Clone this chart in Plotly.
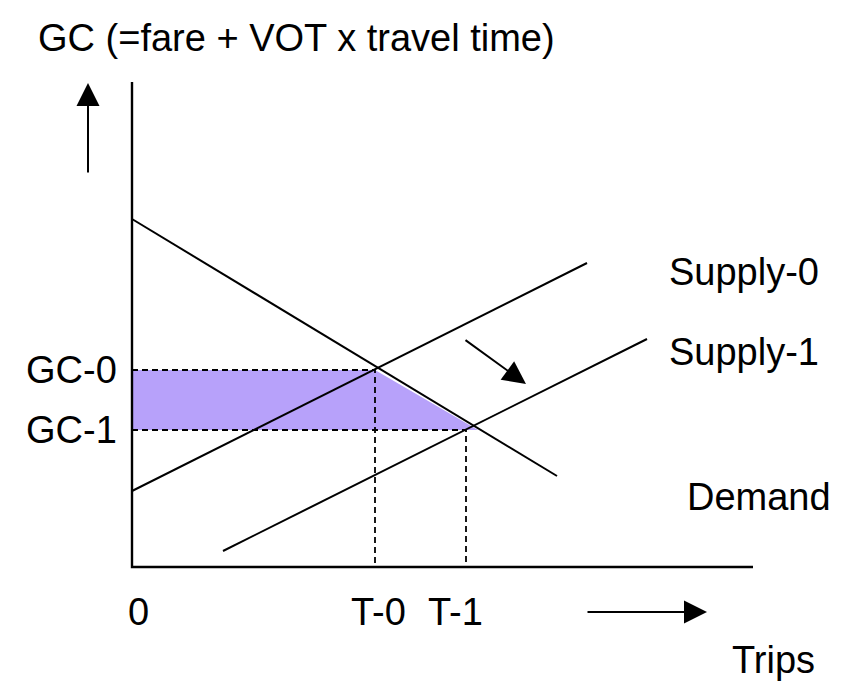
import plotly.graph_objects as go

# ---- data (units: trips / generalized cost, origin at the axes corner) ----
demand_trips = [0, 425]
demand_gc = [348, 91]
supply0_trips = [0, 455]
supply0_gc = [76, 304]
supply1_trips = [91, 515]
supply1_gc = [16, 228]

eq_trips = [243, 334]      # T-0, T-1
eq_gc = [197, 137]         # GC-0, GC-1
eq_names_t = ["T-0", "T-1"]
eq_names_gc = ["GC-0", "GC-1"]

fill_trips = [0, 243, 346, 0]
fill_gc = [197, 197, 137, 137]

axis_x_end = 621
axis_y_end = 485

FONT = "Liberation Sans, Arial, sans-serif"
FS = 38

fig = go.Figure()

# shaded area
fig.add_trace(go.Scatter(x=fill_trips, y=fill_gc, fill="toself", mode="none",
                         fillcolor="rgb(183,161,250)", hoverinfo="skip"))

# dashed guide lines
for t, g in zip(eq_trips, eq_gc):
    fig.add_trace(go.Scatter(x=[0, t, t], y=[g, g, 0], mode="lines",
                             line=dict(color="black", width=1.8, dash="6px,4px"),
                             hoverinfo="skip"))

# curves
for xs, ys in [(demand_trips, demand_gc), (supply0_trips, supply0_gc), (supply1_trips, supply1_gc)]:
    fig.add_trace(go.Scatter(x=xs, y=ys, mode="lines",
                             line=dict(color="black", width=2), hoverinfo="skip"))

# axes
fig.add_trace(go.Scatter(x=[0, 0, axis_x_end], y=[axis_y_end, 0, 0], mode="lines",
                         line=dict(color="black", width=2.4), hoverinfo="skip"))

ann = []
def txt(x, y, s, xanchor="center"):
    ann.append(dict(x=x, y=y, xref="x", yref="y", text=s, showarrow=False,
                    xanchor=xanchor, yanchor="middle", borderpad=0,
                    font=dict(family=FONT, size=FS, color="black")))

txt(-95, 529, "GC (=fare + VOT x travel time)", "left")
txt(-14, eq_gc[0], eq_names_gc[0], "right")
txt(-14, eq_gc[1], eq_names_gc[1], "right")
txt(6, -45, "0")
txt(eq_trips[0] + 3, -45, eq_names_t[0])
txt(eq_trips[1] - 11, -45, eq_names_t[1])
txt(641, -93, "Trips")
txt(536, 295, "Supply-0", "left")
txt(536, 215, "Supply-1", "left")
txt(554, 70, "Demand", "left")

# arrows: (head x, head y, tail x, tail y)
arrows = [(-44, 484, -44, 393), (575, -45, 454, -45), (394, 183, 332, 228)]
for hx, hy, tx, ty in arrows:
    ann.append(dict(x=hx, y=hy, ax=tx, ay=ty, xref="x", yref="y", axref="x", ayref="y",
                    showarrow=True, arrowhead=2, arrowsize=2.3, arrowwidth=2,
                    arrowcolor="black", text=""))

# the page body has an 8px margin, so the figure is 8px smaller than the window
fig.update_layout(
    width=851, height=675, margin=dict(l=0, r=0, t=0, b=0),
    paper_bgcolor="white", plot_bgcolor="white", showlegend=False,
    xaxis=dict(range=[-124, 727], visible=False, fixedrange=True),
    yaxis=dict(range=[-116, 559], visible=False, fixedrange=True),
    annotations=ann,
)

fig.write_html("out.html")
